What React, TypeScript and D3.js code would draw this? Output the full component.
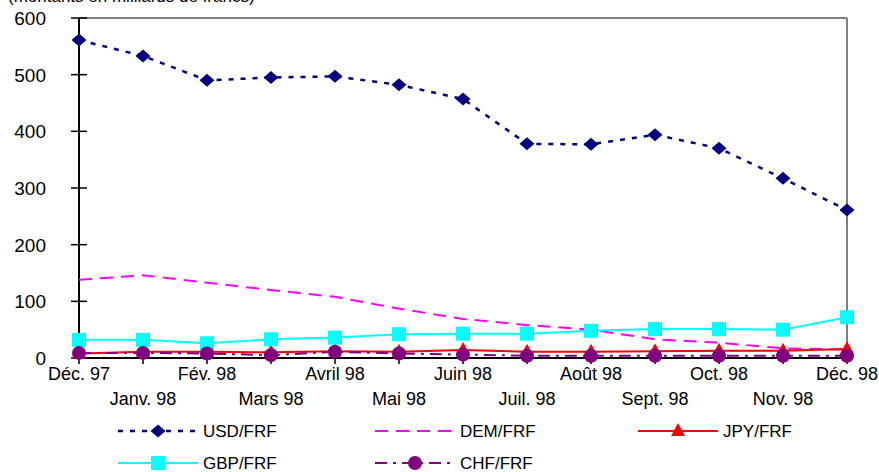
import React from 'react';
import * as d3 from 'd3';

const months = ['Déc. 97', 'Janv. 98', 'Fév. 98', 'Mars 98', 'Avril 98', 'Mai 98', 'Juin 98', 'Juil. 98', 'Août 98', 'Sept. 98', 'Oct. 98', 'Nov. 98', 'Déc. 98'];
const usd = [561, 533, 490, 495, 497, 482, 457, 378, 377, 394, 370, 317, 261];
const dem = [138, 146, 133, 120, 108, 87, 69, 58, 50, 33, 27, 17, 15];
const jpy = [8, 11, 11, 10, 12, 11, 14, 11, 11, 12, 13, 13, 16];
const gbp = [32, 32, 26, 33, 36, 42, 43, 43, 48, 51, 51, 50, 72];
const chf = [9, 9, 8, 5, 11, 8, 6, 4, 4, 4, 4, 4, 4];
const yTicks = [0, 100, 200, 300, 400, 500, 600];

const W = 879;
const H = 472;
const margin = { top: 18, right: 32, bottom: 114, left: 79 };
const FONT = '"Liberation Sans", Arial, sans-serif';

type Marker = 'diamond' | 'square' | 'triangle' | 'circle' | 'none';

const series: { name: string; values: number[]; color: string; dash: string | null; marker: Marker }[] = [
  { name: 'USD/FRF', values: usd, color: '#000080', dash: '5,7', marker: 'diamond' },
  { name: 'DEM/FRF', values: dem, color: '#FF00FF', dash: '13,8', marker: 'none' },
  { name: 'JPY/FRF', values: jpy, color: '#FF0000', dash: null, marker: 'triangle' },
  { name: 'GBP/FRF', values: gbp, color: '#00FFFF', dash: null, marker: 'square' },
  { name: 'CHF/FRF', values: chf, color: '#800080', dash: '12,6,3,6', marker: 'circle' },
];

function MarkerShape({ type, x, y, color }: { type: Marker; x: number; y: number; color: string }) {
  if (type === 'diamond') {
    return <path d={`M${x - 7.5},${y}L${x},${y - 6.5}L${x + 7.5},${y}L${x},${y + 6.5}Z`} fill={color} />;
  }
  if (type === 'square') {
    return <rect x={x - 7} y={y - 7} width={14} height={14} fill={color} />;
  }
  if (type === 'triangle') {
    return <path d={`M${x},${y - 8}L${x + 7},${y + 5}L${x - 7},${y + 5}Z`} fill={color} />;
  }
  if (type === 'circle') {
    return <circle cx={x} cy={y} r={7} fill={color} />;
  }
  return null;
}

export default function App() {
  const x = d3.scalePoint<string>().domain(months).range([margin.left, W - margin.right]);
  const y = d3.scaleLinear().domain([0, 600]).range([H - margin.bottom, margin.top]);
  const x0 = margin.left;
  const x1 = W - margin.right;
  const y0 = y(0);
  const y1 = y(600);

  const line = d3.line<number>()
    .x((_, i) => x(months[i]) as number)
    .y(d => y(d));

  const legendPos = [
    { lx: 118, ly: 431 },
    { lx: 375, ly: 431 },
    { lx: 638, ly: 431 },
    { lx: 118, ly: 463 },
    { lx: 375, ly: 463 },
  ];

  return (
    <svg width={W} height={H} style={{ position: 'absolute', left: 0, top: 0, fontFamily: FONT }}>
      <rect width={W} height={H} fill="#fff" />
      <text x={8} y={2} fontSize={17} fill="#000">(montants en milliards de francs)</text>

      {/* frame */}
      <line x1={x0} x2={x1} y1={y1} y2={y1} stroke="#808080" strokeWidth={2} />
      <line x1={x1} x2={x1} y1={y1} y2={y0} stroke="#808080" strokeWidth={2} />

      {/* y axis */}
      <line x1={x0} x2={x0} y1={y1} y2={y0} stroke="#000" strokeWidth={2} />
      {yTicks.map(t => (
        <g key={t}>
          <line x1={x0 - 8} x2={x0 + 8} y1={y(t)} y2={y(t)} stroke="#000" strokeWidth={1.5} />
          <text x={46} y={y(t) + 7} textAnchor="end" fontSize={19}>{t}</text>
        </g>
      ))}

      {/* x axis */}
      <line x1={x0} x2={x1} y1={y0} y2={y0} stroke="#000" strokeWidth={2} />
      {months.map((m, i) => (
        <g key={m}>
          <line x1={x(m)} x2={x(m)} y1={y0 - 5} y2={y0 + 6} stroke="#000" strokeWidth={1.5} />
          <text x={x(m)} y={i % 2 === 0 ? 380 : 405} textAnchor="middle" fontSize={18}>{m}</text>
        </g>
      ))}

      {/* series */}
      {series.map(s => (
        <g key={s.name}>
          <path d={line(s.values) || ''} fill="none" stroke={s.color} strokeWidth={s.marker === 'diamond' ? 2.5 : 2}
            strokeDasharray={s.dash || undefined} />
          {s.values.map((v, i) => (
            <MarkerShape key={i} type={s.marker} x={x(months[i]) as number} y={y(v)} color={s.color} />
          ))}
        </g>
      ))}

      {/* legend */}
      {series.map((s, i) => {
        const { lx, ly } = legendPos[i];
        return (
          <g key={s.name}>
            <line x1={lx} x2={lx + 80} y1={ly} y2={ly} stroke={s.color} strokeWidth={s.marker === 'diamond' ? 2.5 : 2}
              strokeDasharray={s.dash || undefined} />
            <MarkerShape type={s.marker} x={lx + 40} y={ly} color={s.color} />
            <text x={lx + 85} y={ly + 6} fontSize={17}>{s.name}</text>
          </g>
        );
      })}
    </svg>
  );
}
